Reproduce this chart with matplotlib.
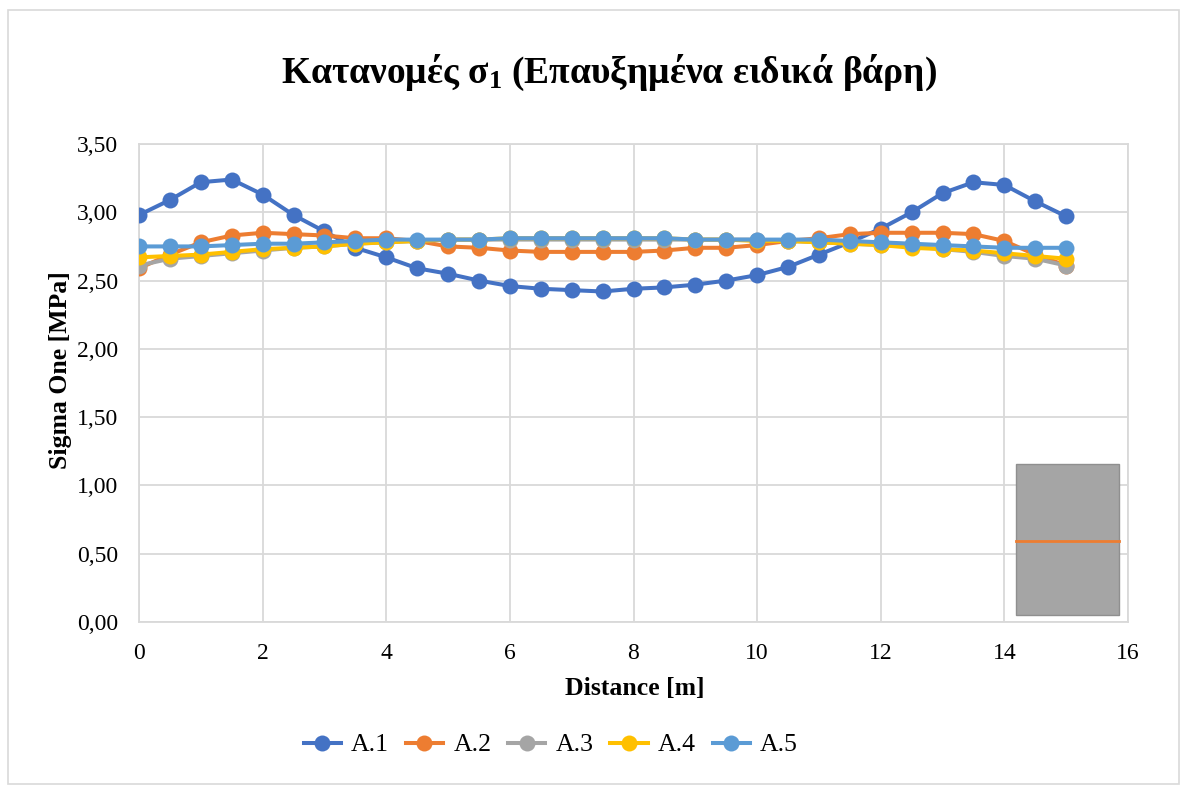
import numpy as np
import matplotlib
matplotlib.use("Agg")
import matplotlib.pyplot as plt
from matplotlib.ticker import FuncFormatter, MultipleLocator
from matplotlib.patches import Rectangle

# Distance along the section [m]
distance = [i * 0.5 for i in range(31)]

# Sigma One [MPa] per load case
a1 = [2.98, 3.09, 3.22, 3.24, 3.13, 2.98, 2.86, 2.74, 2.67, 2.59, 2.55, 2.50, 2.46, 2.44, 2.43, 2.42,
      2.44, 2.45, 2.47, 2.50, 2.54, 2.60, 2.69, 2.78, 2.88, 3.00, 3.14, 3.22, 3.20, 3.08, 2.97]
a2 = [2.59, 2.69, 2.78, 2.83, 2.85, 2.84, 2.83, 2.81, 2.81, 2.79, 2.75, 2.74, 2.72, 2.71, 2.71, 2.71,
      2.71, 2.72, 2.74, 2.74, 2.76, 2.79, 2.81, 2.84, 2.85, 2.85, 2.85, 2.84, 2.79, 2.69, 2.61]
a3 = [2.61, 2.66, 2.68, 2.70, 2.72, 2.74, 2.75, 2.77, 2.78, 2.79, 2.80, 2.80, 2.80, 2.80, 2.80, 2.80,
      2.80, 2.80, 2.80, 2.80, 2.80, 2.79, 2.78, 2.77, 2.76, 2.75, 2.73, 2.71, 2.68, 2.66, 2.61]
a4 = [2.67, 2.68, 2.69, 2.71, 2.73, 2.74, 2.75, 2.77, 2.78, 2.79, 2.80, 2.80, 2.81, 2.81, 2.81, 2.81,
      2.81, 2.81, 2.80, 2.80, 2.79, 2.79, 2.78, 2.77, 2.76, 2.74, 2.73, 2.72, 2.70, 2.68, 2.66]
a5 = [2.75, 2.75, 2.75, 2.76, 2.77, 2.77, 2.78, 2.79, 2.80, 2.80, 2.80, 2.80, 2.81, 2.81, 2.81, 2.81,
      2.81, 2.81, 2.80, 2.80, 2.80, 2.80, 2.80, 2.79, 2.78, 2.77, 2.76, 2.75, 2.74, 2.74, 2.74]

series_labels = ["A.1", "A.2", "A.3", "A.4", "A.5"]
series_colors = ["#4472C4", "#ED7D31", "#A5A5A5", "#FFC000", "#5B9BD5"]

# Grey shape with an orange line sitting in the lower right of the plot
box_x = (14.19, 15.86)
box_y = (0.05, 1.157)
box_line_y = 0.593

plt.rcParams["font.family"] = ["Liberation Serif", "DejaVu Serif"]
plt.rcParams["mathtext.fontset"] = "custom"
plt.rcParams["mathtext.rm"] = "Liberation Serif:bold"
plt.rcParams["mathtext.bf"] = "Liberation Serif:bold"
plt.rcParams["mathtext.it"] = "Liberation Serif:bold"

fig = plt.figure(figsize=(11.87, 7.92), dpi=100)
ax = fig.add_axes([139 / 1187, 1 - 622 / 792, (1128 - 139) / 1187, (622 - 144) / 792])

for vals, lab, col in zip([a1, a2, a3, a4, a5], series_labels, series_colors):
    ax.plot(distance, vals, color=col, lw=2.9, marker="o", markersize=11.5,
            markeredgewidth=0, label=lab, zorder=3)

ax.add_patch(Rectangle((box_x[0], box_y[0]), box_x[1] - box_x[0], box_y[1] - box_y[0],
                       facecolor="#A5A5A5", edgecolor="#8F8F8F", lw=1.0, zorder=4))
ax.plot(box_x, [box_line_y, box_line_y], color="#ED7D31", lw=2.0, zorder=5)

ax.set_xlim(0, 16)
ax.set_ylim(0, 3.5)
ax.xaxis.set_major_locator(MultipleLocator(2))
ax.yaxis.set_major_locator(MultipleLocator(0.5))
ax.yaxis.set_major_formatter(FuncFormatter(lambda v, p: f"{v:.2f}".replace(".", ",")))
ax.grid(True, color="#D9D9D9", lw=1.3)
ax.set_axisbelow(True)
for s in ax.spines.values():
    s.set_color("#D9D9D9")
    s.set_linewidth(1.3)
ax.tick_params(length=0, labelsize=17, colors="black")
ax.tick_params(axis="y", pad=15)
ax.tick_params(axis="x", pad=15)

ax.set_xlabel("Distance [m]", fontsize=18.5, fontweight="bold")
ax.set_ylabel("Sigma One [MPa]", fontsize=18.5, fontweight="bold")
ax.xaxis.set_label_coords((634.5 - 139) / 989, (622 - 688) / 478)
ax.xaxis.label.set_va("center")
ax.yaxis.set_label_coords((60 - 139) / 989, (622 - 370) / 478)
ax.yaxis.label.set_va("center")

fig.text(0.513, 1 - 73 / 792, r"Κατανομές σ$_{1}$ (Επαυξημένα ειδικά βάρη)",
         ha="center", va="center", fontsize=27, fontweight="bold")

fig.legend(*ax.get_legend_handles_labels(), loc="center", ncol=5,
           bbox_to_anchor=(0.464, 1 - 745 / 792), frameon=False, fontsize=18.5,
           handlelength=1.45, columnspacing=0.65, handletextpad=0.4)

fig.patches.append(Rectangle((8 / 1187, 1 - 784 / 792), (1179 - 8) / 1187, (784 - 10) / 792,
                             transform=fig.transFigure, fill=False, edgecolor="#D9D9D9", lw=1.2))

fig.savefig("out.png", dpi=100, facecolor="white")
